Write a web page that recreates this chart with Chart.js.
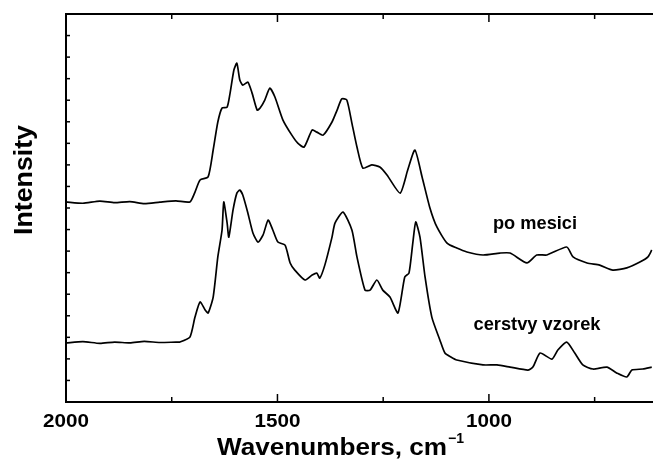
<!DOCTYPE html>
<html>
<head>
<meta charset="utf-8">
<script src="https://cdn.jsdelivr.net/npm/chart.js@4.4.1/dist/chart.umd.min.js"></script>
<style>
  body { margin: 0; background: #fff; }
  #wrap { width: 653px; height: 463px; }
</style>
</head>
<body>
<div id="wrap"><canvas id="chartS" width="653" height="463"></canvas></div>
<script>
// po mesici (upper trace)
var upperWn = [2000,1960,1920,1885,1849,1815,1778,1740,1707,1695,1683,1664,1652,1641,1631,1619,1612,1603,1596,
  1589,1582,1570,1560,1548,1541,1530,1518,1506,1487,1466,1452,1437,1418,1407,1392,1371,1359,1348,1336,
  1324,1312,1298,1277,1258,1241,1210,1192,1175,1158,1140,1123,1099,1076,1052,1014,974,950,910,887,863,816,
  801,768,738,707,674,643,624,615];
var upperInt = [9.28,9.22,9.32,9.25,9.30,9.20,9.27,9.33,9.28,9.74,10.30,10.44,11.69,12.99,13.64,13.68,14.33,15.40,15.72,
  14.94,14.70,14.84,14.33,13.54,13.64,14.01,14.56,14.15,13.08,12.38,12.01,11.83,12.62,12.52,12.38,12.99,13.54,14.06,14.01,
  12.94,11.83,10.85,11.00,10.90,10.53,9.69,10.76,11.69,10.44,9.04,8.12,7.37,7.14,6.96,6.82,6.91,6.91,6.45,6.82,6.82,7.19,
  6.73,6.45,6.35,6.12,6.22,6.49,6.73,7.05];

// cerstvy vzorek (lower trace)
var lowerWn = [2000,1960,1920,1885,1849,1815,1778,1740,1731,1707,1695,1683,1671,1664,1652,1641,1631,1627,1619,1615,
  1605,1596,1589,1582,1570,1558,1546,1534,1522,1511,1499,1482,1470,1459,1435,1418,1407,1400,1388,1371,
  1364,1345,1324,1312,1293,1281,1265,1251,1234,1215,1199,1189,1180,1173,1163,1151,1135,1116,1104,1090,1076,
  1014,981,950,908,896,879,851,837,816,797,778,754,721,698,674,662,636,615];
var lowerInt = [2.74,2.80,2.72,2.78,2.74,2.81,2.76,2.78,2.78,3.01,3.94,4.64,4.27,4.13,4.87,6.73,7.98,9.28,8.30,7.65,
  8.91,9.69,9.83,9.60,8.77,7.84,7.42,7.75,8.44,7.98,7.42,7.28,6.45,6.12,5.66,5.89,5.98,5.75,6.35,7.65,
  8.30,8.81,7.98,6.73,5.19,5.19,5.66,5.19,4.87,4.13,5.80,5.98,7.37,8.35,7.65,5.80,3.94,2.88,2.27,2.09,1.95,
  1.72,1.72,1.62,1.48,1.62,2.27,1.99,2.41,2.78,2.27,1.72,1.53,1.62,1.35,1.16,1.48,1.53,1.62];

var xTickLabels = ["2000","1500","1000"];
var xMinorTicks = [1750,1250,750];
var seriesNames = ["po mesici","cerstvy vzorek"];

function pts(xs, ys) {
  return xs.map(function (v, i) { return { x: v, y: ys[i] }; });
}

var FONT = '"Liberation Sans", Arial, Helvetica, sans-serif';

// draw text, optionally squeezed/stretched to a given width
function txt(ctx, s, x, y, size, align, w) {
  ctx.font = 'bold ' + size + 'px ' + FONT;
  var m = ctx.measureText(s).width;
  var sx = w ? w / m : 1;
  ctx.save();
  ctx.translate(x, y);
  ctx.scale(sx, 1);
  ctx.textAlign = align;
  ctx.textBaseline = 'alphabetic';
  ctx.fillText(s, 0, 0);
  ctx.restore();
  return m * sx;
}

var decor = {
  id: 'decor',
  afterDraw: function (chart) {
    var ctx = chart.ctx, a = chart.chartArea;
    var xs = chart.scales.x, ys = chart.scales.y;
    ctx.save();
    ctx.strokeStyle = '#000';
    ctx.fillStyle = '#000';
    // top frame line
    ctx.lineWidth = 2;
    ctx.beginPath(); ctx.moveTo(a.left - 1, a.top); ctx.lineTo(a.right, a.top); ctx.stroke();
    // inward ticks
    ctx.lineWidth = 1.5;
    function seg(x1, y1, x2, y2) { ctx.beginPath(); ctx.moveTo(x1, y1); ctx.lineTo(x2, y2); ctx.stroke(); }
    xTickLabels.forEach(function (l) {
      var p = xs.getPixelForValue(Number(l));
      seg(p, a.bottom, p, a.bottom - 8);
      seg(p, a.top, p, a.top + 8);
    });
    xMinorTicks.forEach(function (v) {
      var p = xs.getPixelForValue(v);
      seg(p, a.bottom, p, a.bottom - 5);
      seg(p, a.top, p, a.top + 5);
    });
    ys.ticks.forEach(function (t) {
      var p = ys.getPixelForValue(t.value);
      seg(a.left, p, a.left + 4, p);
    });
    // tick labels
    xTickLabels.forEach(function (l) {
      txt(ctx, l, xs.getPixelForValue(Number(l)), 427, 19, 'center', 46);
    });
    // axis titles
    var w = txt(ctx, 'Wavenumbers, cm', 217, 455, 23, 'left', 230);
    txt(ctx, '\u22121', 217 + w + 1, 443, 14, 'left');
    ctx.save();
    ctx.translate(32, 180);
    ctx.rotate(-Math.PI / 2);
    txt(ctx, 'Intensity', 0, 0, 26, 'center', 110);
    ctx.restore();
    // series labels
    txt(ctx, seriesNames[0], 535, 229, 18, 'center', 84);
    txt(ctx, seriesNames[1], 537, 330, 18, 'center', 127);
    ctx.restore();
  }
};

var ctx = document.getElementById("chartS");
var chartS = new Chart(ctx, {
  type: "line",
  data: {
    datasets: [{
      label: seriesNames[0],
      data: pts(upperWn, upperInt),
      borderColor: '#000',
      borderWidth: 1.7,
      pointRadius: 0,
      tension: 0.2,
      fill: false
    }, {
      label: seriesNames[1],
      data: pts(lowerWn, lowerInt),
      borderColor: '#000',
      borderWidth: 1.7,
      pointRadius: 0,
      tension: 0.2,
      fill: false
    }]
  },
  options: {
    responsive: false,
    animation: false,
    devicePixelRatio: 1,
    layout: { padding: { left: 66, top: 14, right: 0, bottom: 61 } },
    plugins: { legend: { display: false }, tooltip: { enabled: false } },
    scales: {
      x: {
        type: 'linear',
        reverse: true,
        min: 612,
        max: 2000,
        grid: { display: false, drawTicks: false },
        ticks: { display: false },
        border: { display: true, color: '#000', width: 2 }
      },
      y: {
        min: 0,
        max: 18,
        grid: { display: false, drawTicks: false },
        ticks: { display: false, stepSize: 1 },
        border: { display: true, color: '#000', width: 2 }
      }
    }
  },
  plugins: [decor]
});
</script>
</body>
</html>
